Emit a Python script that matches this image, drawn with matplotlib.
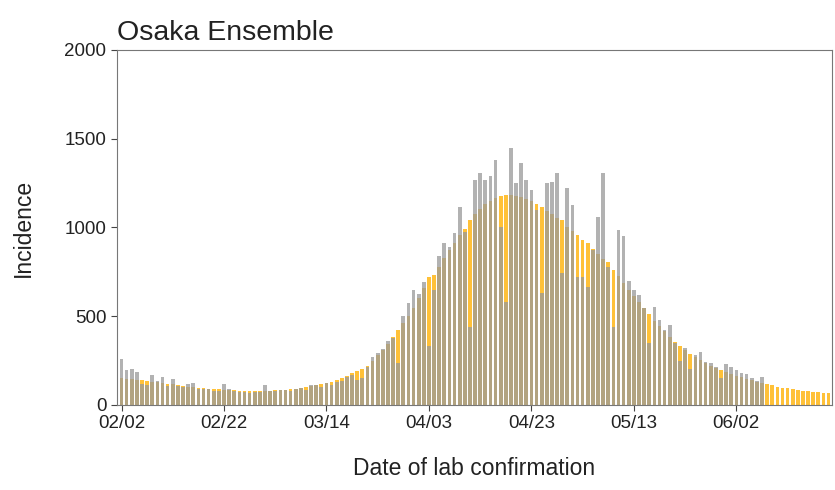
import matplotlib
matplotlib.use("Agg")
import matplotlib.pyplot as plt
import numpy as np

plt.rcParams['font.family'] = ['Liberation Sans', 'DejaVu Sans']

# daily reported cases, from 02/02
observed = [
    261, 197, 205, 186, 120, 110, 167, 135, 158, 105,
    148, 107, 103, 116, 126, 92, 92, 92, 79, 79,
    116, 88, 80, 72, 75, 68, 72, 75, 111, 78,
    80, 82, 85, 80, 90, 95, 85, 111, 112, 100,
    126, 115, 130, 135, 160, 170, 140, 150, 213, 270,
    292, 316, 363, 380, 236, 499, 572, 645, 627, 692,
    335, 650, 839, 911, 892, 967, 1113, 976, 441, 1268,
    1305, 1268, 1290, 1380, 1004, 582, 1446, 1249, 1362, 1268,
    1211, 1100, 630, 1249, 1258, 1305, 743, 1220, 1127, 723,
    720, 666, 873, 1061, 1305, 779, 441, 986, 952, 696,
    648, 620, 545, 350, 550, 479, 422, 451, 347, 250,
    319, 200, 282, 298, 244, 238, 216, 150, 229, 216,
    197, 178, 172, 150, 135, 160,
]

# ensemble estimate, from 02/02
ensemble = [
    150, 148, 146, 143, 140, 136, 132, 128, 124, 120,
    116, 112, 108, 104, 101, 98, 95, 92, 90, 88,
    86, 84, 82, 81, 80, 79, 79, 79, 80, 81,
    82, 84, 86, 89, 92, 96, 100, 105, 110, 116,
    123, 131, 140, 151, 165, 178, 190, 200, 222, 250,
    280, 312, 345, 385, 422, 460, 500, 545, 600, 660,
    720, 735, 780, 830, 875, 915, 955, 990, 1040, 1075,
    1105, 1130, 1150, 1168, 1178, 1183, 1182, 1178, 1170, 1160,
    1148, 1135, 1115, 1095, 1075, 1055, 1040, 1005, 980, 960,
    930, 910, 880, 850, 825, 805, 760, 725, 690, 650,
    615, 580, 545, 510, 475, 445, 415, 385, 355, 330,
    310, 290, 270, 252, 238, 222, 210, 198, 185, 175,
    165, 155, 146, 138, 130, 123, 117, 110, 104, 98,
    93, 88, 84, 80, 77, 74, 71, 69, 66,
]

tick_days = [0, 20, 40, 60, 80, 100, 120]
tick_labels = ['02/02', '02/22', '03/14', '04/03', '04/23', '05/13', '06/02']

fig = plt.figure(figsize=(8.35, 4.9), dpi=100)
ax = fig.add_axes([0.140, 0.1735, 0.856, 0.7245])

ax.bar(np.arange(len(ensemble)), ensemble, width=0.72, color='#FFB000', alpha=0.78)
ax.bar(np.arange(len(observed)), observed, width=0.72, color='#999999', alpha=0.75)

ax.set_xlim(-0.9, 138.6)
ax.set_ylim(0, 2000)
ax.set_yticks([0, 500, 1000, 1500, 2000])
ax.set_xticks(tick_days)
ax.set_xticklabels(tick_labels)
ax.tick_params(labelsize=13.5, length=4, color='#444444', labelcolor='#222222')
for s in ax.spines.values():
    s.set_color('#777777')

ax.set_title('Osaka Ensemble', loc='left', fontsize=20.5, pad=7, color='#222222')
ax.set_xlabel('Date of lab confirmation', fontsize=16.5, color='#222222')
ax.xaxis.set_label_coords(0.5, -0.146)
ax.set_ylabel('Incidence', fontsize=16.5, color='#222222')
ax.yaxis.set_label_coords(-0.115, 0.5)

fig.savefig('out.png', dpi=100)
